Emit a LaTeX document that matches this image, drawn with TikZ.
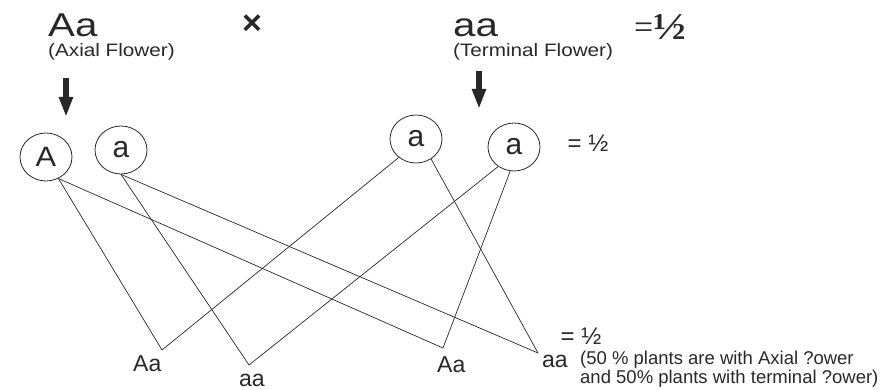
\documentclass[tikz,border=0pt]{standalone}
\usepackage{fontspec}
\setmainfont{Liberation Sans}
\newfontfamily\seriffont{Liberation Serif}
\usetikzlibrary{shapes.geometric,arrows.meta}
\definecolor{ink}{RGB}{40,40,40}
\begin{document}
\begin{tikzpicture}[x=1pt,y=-1pt,
  gam/.style={ellipse,draw=ink,line width=0.8pt,minimum width=52pt,minimum height=48pt,inner sep=0pt,text=ink},
  link/.style={draw=ink,line width=0.7pt},
  bigarrow/.style={draw=ink,line width=6pt,-{Triangle[width=13pt,length=20pt]}},
  parent/.style={anchor=base west,inner sep=0pt,text=ink,font=\fontsize{33}{36}\selectfont},
  pheno/.style={anchor=base west,inner sep=0pt,text=ink,font=\fontsize{18}{20}\selectfont},
  child/.style={anchor=base west,inner sep=0pt,text=ink,font=\fontsize{23}{26}\selectfont},
  ratio/.style={inner sep=0pt,text=ink,font=\fontsize{24}{28}\selectfont},
  note/.style={anchor=base west,inner sep=0pt,text=ink,font=\fontsize{18.5}{19}\selectfont}
]
\useasboundingbox (0,0) rectangle (885,390);
% parents
\node[parent] (p1) at (48,37) {\scalebox{1.22}[1]{Aa}};
\node[pheno] (p1t) at (48,57) {\scalebox{1.15}[1]{(Axial Flower)}};
\node[parent] (p2) at (453,37) {\scalebox{1.22}[1]{aa}};
\node[pheno] (p2t) at (453,57) {\scalebox{1.15}[1]{(Terminal Flower)}};
\node[inner sep=0pt,text=ink,font=\fontsize{34}{34}\selectfont\bfseries] (cross) at (252,25) {×};
\node[anchor=base west,inner sep=0pt,text=ink,font=\seriffont] (r1) at (634,40)
  {\raisebox{1.5pt}{\fontsize{34}{34}\selectfont =}\hspace{0pt}{\fontsize{38}{38}\selectfont\bfseries\scalebox{1.15}[1]{½}}};
% arrows
\coordinate (a1s) at (66,78);
\coordinate (a1e) at (66,117);
\coordinate (a2s) at (479,71);
\coordinate (a2e) at (479,109);
\draw[bigarrow] (a1s) -- (a1e);
\draw[bigarrow] (a2s) -- (a2e);
% gametes
\node[gam,font=\fontsize{28}{30}\selectfont] (gA) at (46,157) {\scalebox{1.1}[1]{A}};
\node[gam,font=\fontsize{30}{32}\selectfont] (ga1) at (121,150) {a};
\node[gam,font=\fontsize{30}{32}\selectfont] (ga2) at (416,139) {a};
\node[gam,font=\fontsize{30}{32}\selectfont] (ga3) at (514,147) {a};
\node[ratio] (r2) at (588,143) {= ½};
% offspring vertices
\coordinate (v1) at (162,350);
\coordinate (v2) at (249,365);
\coordinate (v3) at (443,348);
\coordinate (v4) at (538,353);
\draw[link] (gA.-60) -- (v1);
\draw[link] (gA.-60) -- (v3);
\draw[link] (ga1.south) -- (v2);
\draw[link] (ga1.south) -- (v4);
\draw[link] (ga2.-133) -- (v1);
\draw[link] (ga2.-53) -- (v4);
\draw[link] (ga3.-129) -- (v2);
\draw[link] (ga3.-99) -- (v3);
% offspring labels
\node[child] (o1) at (133,371) {Aa};
\node[child] (o2) at (239,386) {aa};
\node[child] (o3) at (437,372) {Aa};
\node[child] (o4) at (542,367) {aa};
\node[ratio] (r3) at (581,336) {= ½};
\node[note] (n1) at (580,364) {(50 \% plants are with Axial ?ower};
\node[note] (n2) at (580,383) {and 50\% plants with terminal ?ower)};
\end{tikzpicture}
\end{document}
